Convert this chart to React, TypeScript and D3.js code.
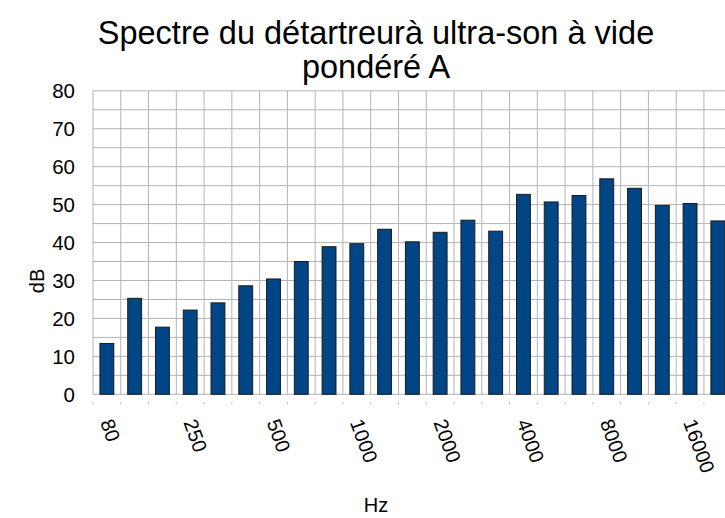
import React, { useEffect, useRef } from 'react';
import * as d3 from 'd3';

const categories = [
  '80', '125', '160', '250', '315', '400', '500', '630', '800', '1000', '1250', '1600',
  '2000', '2500', '3150', '4000', '5000', '6300', '8000', '10000', '12500', '16000', '20000'
];
const values = [
  13.4, 25.3, 17.7, 22.2, 24.1, 28.6, 30.4, 35.0, 38.9, 39.7, 43.5, 40.2,
  42.7, 45.9, 43.0, 52.7, 50.7, 52.4, 56.8, 54.3, 49.8, 50.3, 45.7
];
const yTicks = [0, 10, 20, 30, 40, 50, 60, 70, 80];
const yGrid = d3.range(0, 81, 5);
const titleLines = ['Spectre du détartreurà ultra-son à vide', 'pondéré A'];

export default function App() {
  const ref = useRef<SVGSVGElement>(null);

  useEffect(() => {
    const width = 725, height = 518;
    const left = 93, top = 90.8, bottom = 394.3;
    const step = 27.77;

    const svg = d3.select(ref.current);
    svg.selectAll('*').remove();
    svg.attr('width', width).attr('height', height);

    const font = '"Liberation Sans", Arial, sans-serif';

    const x = d3.scaleBand<string>()
      .domain(categories)
      .range([left, left + step * categories.length])
      .padding(0);

    const y = d3.scaleLinear().domain([0, 80]).range([bottom, top]);

    const right = left + step * categories.length;

    // horizontal grid
    svg.append('g')
      .selectAll('line')
      .data(yGrid)
      .enter()
      .append('line')
      .attr('x1', left)
      .attr('x2', right)
      .attr('y1', d => y(d))
      .attr('y2', d => y(d))
      .attr('stroke', '#b3b3b3')
      .attr('stroke-width', 1);

    // vertical grid at band edges
    const edges = categories.map(c => x(c) as number).concat([right]);
    svg.append('g')
      .selectAll('line')
      .data(edges)
      .enter()
      .append('line')
      .attr('x1', d => d)
      .attr('x2', d => d)
      .attr('y1', top)
      .attr('y2', bottom)
      .attr('stroke', '#b3b3b3')
      .attr('stroke-width', 1);

    // small ticks under the axis
    svg.append('g')
      .selectAll('line')
      .data(edges)
      .enter()
      .append('line')
      .attr('x1', d => d)
      .attr('x2', d => d)
      .attr('y1', bottom + 8)
      .attr('y2', bottom + 10)
      .attr('stroke', '#b3b3b3')
      .attr('stroke-width', 1);

    // bars
    const bw = x.bandwidth();
    svg.append('g')
      .selectAll('rect')
      .data(values)
      .enter()
      .append('rect')
      .attr('x', (d, i) => (x(categories[i]) as number) + bw * 0.25)
      .attr('y', d => y(d))
      .attr('width', bw * 0.5)
      .attr('height', d => bottom - y(d))
      .attr('fill', '#004586')
      .attr('stroke', '#1c1c1c')
      .attr('stroke-width', 1);

    // y tick labels
    svg.append('g')
      .selectAll('text')
      .data(yTicks)
      .enter()
      .append('text')
      .attr('x', 75)
      .attr('y', d => y(d) + 7.5)
      .attr('text-anchor', 'end')
      .attr('font-family', font)
      .attr('font-size', 20.5)
      .text(d => d);

    // x tick labels (every third)
    svg.append('g')
      .selectAll('text')
      .data(categories.filter((c, i) => i % 3 === 0))
      .enter()
      .append('text')
      .attr('transform', d => 'translate(' + ((x(d) as number) + bw / 2 - 7) + ',' + (bottom + 28) + ') rotate(70)')
      .attr('text-anchor', 'start')
      .attr('font-family', font)
      .attr('font-size', 20)
      .text(d => d);

    // axis titles
    svg.append('text')
      .attr('transform', 'translate(44,281) rotate(-90)')
      .attr('text-anchor', 'middle')
      .attr('font-family', font)
      .attr('font-size', 20)
      .text('dB');

    svg.append('text')
      .attr('x', 376)
      .attr('y', 512)
      .attr('text-anchor', 'middle')
      .attr('font-family', font)
      .attr('font-size', 20)
      .text('Hz');

    // title
    svg.append('g')
      .selectAll('text')
      .data(titleLines)
      .enter()
      .append('text')
      .attr('x', 376)
      .attr('y', (d, i) => 44 + i * 34)
      .attr('text-anchor', 'middle')
      .attr('font-family', font)
      .attr('font-size', 32.5)
      .text(d => d);
  }, []);

  return (
    <div style={{ position: 'absolute', left: 0, top: 0, width: 725, height: 518, overflow: 'hidden', background: '#fff' }}>
      <svg ref={ref} style={{ display: 'block' }} />
    </div>
  );
}
